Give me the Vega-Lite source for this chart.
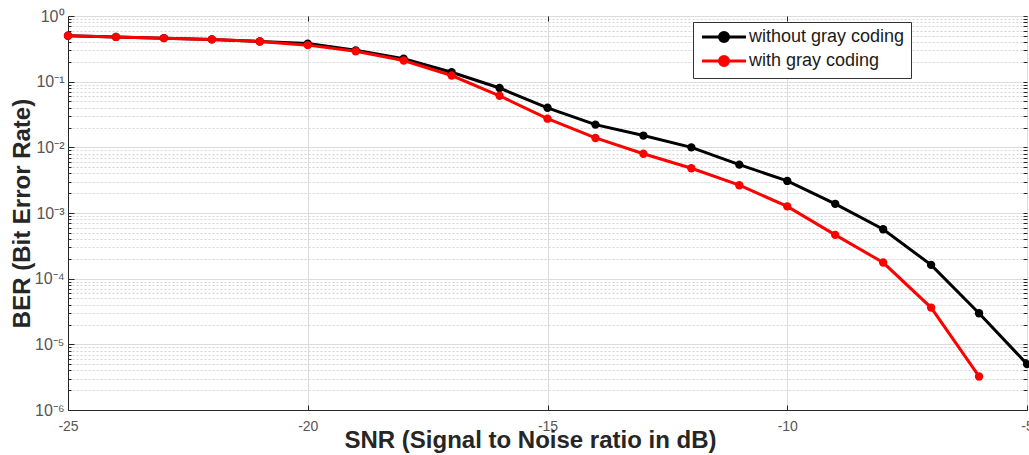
{
  "$schema": "https://vega.github.io/schema/vega-lite/v6.json",
  "width": 959,
  "height": 394,
  "autosize": {"type": "none"},
  "padding": {"left": 68, "top": 16, "right": 2, "bottom": 45},
  "background": "white",
  "config": {
    "view": {"stroke": "#262626", "strokeWidth": 1},
    "font": "Liberation Sans",
    "axis": {"labelFont": "Liberation Sans", "titleFont": "Liberation Sans"}
  },
  "data": {
    "values": [
      {"snr": -25, "ber": 0.50, "series": "without gray coding"},
      {"snr": -24, "ber": 0.48, "series": "without gray coding"},
      {"snr": -23, "ber": 0.46, "series": "without gray coding"},
      {"snr": -22, "ber": 0.44, "series": "without gray coding"},
      {"snr": -21, "ber": 0.41, "series": "without gray coding"},
      {"snr": -20, "ber": 0.38, "series": "without gray coding"},
      {"snr": -19, "ber": 0.30, "series": "without gray coding"},
      {"snr": -18, "ber": 0.224, "series": "without gray coding"},
      {"snr": -17, "ber": 0.139, "series": "without gray coding"},
      {"snr": -16, "ber": 0.080, "series": "without gray coding"},
      {"snr": -15, "ber": 0.040, "series": "without gray coding"},
      {"snr": -14, "ber": 0.0222, "series": "without gray coding"},
      {"snr": -13, "ber": 0.0151, "series": "without gray coding"},
      {"snr": -12, "ber": 0.0100, "series": "without gray coding"},
      {"snr": -11, "ber": 0.00545, "series": "without gray coding"},
      {"snr": -10, "ber": 0.00308, "series": "without gray coding"},
      {"snr": -9, "ber": 0.00138, "series": "without gray coding"},
      {"snr": -8, "ber": 0.000566, "series": "without gray coding"},
      {"snr": -7, "ber": 0.000162, "series": "without gray coding"},
      {"snr": -6, "ber": 0.0000298, "series": "without gray coding"},
      {"snr": -5, "ber": 0.0000050, "series": "without gray coding"},
      {"snr": -25, "ber": 0.50, "series": "with gray coding"},
      {"snr": -24, "ber": 0.48, "series": "with gray coding"},
      {"snr": -23, "ber": 0.46, "series": "with gray coding"},
      {"snr": -22, "ber": 0.44, "series": "with gray coding"},
      {"snr": -21, "ber": 0.41, "series": "with gray coding"},
      {"snr": -20, "ber": 0.36, "series": "with gray coding"},
      {"snr": -19, "ber": 0.29, "series": "with gray coding"},
      {"snr": -18, "ber": 0.21, "series": "with gray coding"},
      {"snr": -17, "ber": 0.124, "series": "with gray coding"},
      {"snr": -16, "ber": 0.061, "series": "with gray coding"},
      {"snr": -15, "ber": 0.0273, "series": "with gray coding"},
      {"snr": -14, "ber": 0.0139, "series": "with gray coding"},
      {"snr": -13, "ber": 0.0080, "series": "with gray coding"},
      {"snr": -12, "ber": 0.0048, "series": "with gray coding"},
      {"snr": -11, "ber": 0.00265, "series": "with gray coding"},
      {"snr": -10, "ber": 0.00126, "series": "with gray coding"},
      {"snr": -9, "ber": 0.000464, "series": "with gray coding"},
      {"snr": -8, "ber": 0.000176, "series": "with gray coding"},
      {"snr": -7, "ber": 0.0000363, "series": "with gray coding"},
      {"snr": -6, "ber": 0.00000324, "series": "with gray coding"}
    ]
  },
  "resolve": {"axis": {"y": "independent", "x": "independent"}},
  "layer": [
    {
      "mark": {"type": "line", "strokeWidth": 3},
      "encoding": {
        "x": {
          "field": "snr", "type": "quantitative",
          "scale": {"domain": [-25, -5], "nice": false, "zero": false},
          "axis": {
            "orient": "bottom",
            "values": [-25, -20, -15, -10, -5],
            "labelExpr": "'' + datum.value",
            "grid": true, "gridColor": "#dcdcdc", "gridWidth": 1,
            "domain": true, "domainColor": "#262626",
            "ticks": true, "tickSize": -5, "tickColor": "#262626",
            "labelColor": "#555555", "labelFontSize": 14, "labelPadding": 14,
            "labelFlush": false,
            "title": "SNR (Signal to Noise ratio in dB)",
            "titleFontSize": 24, "titleFontWeight": "bold", "titleColor": "#262626",
            "titleX": 462, "titleY": 18
          }
        },
        "y": {
          "field": "ber", "type": "quantitative",
          "scale": {"type": "log", "domain": [0.000001, 1], "nice": false},
          "axis": {
            "orient": "left",
            "values": [0.000001, 0.00001, 0.0001, 0.001, 0.01, 0.1, 1],
            "labelExpr": "datum.value >= 0.5 ? '10⁰' : datum.value >= 0.05 ? '10⁻¹' : datum.value >= 0.005 ? '10⁻²' : datum.value >= 0.0005 ? '10⁻³' : datum.value >= 0.00005 ? '10⁻⁴' : datum.value >= 0.000005 ? '10⁻⁵' : '10⁻⁶'",
            "grid": true, "gridColor": "#dcdcdc", "gridWidth": 1,
            "domain": true, "domainColor": "#262626",
            "ticks": true, "tickSize": -6, "tickColor": "#262626",
            "labelColor": "#555555", "labelFontSize": 16, "labelPadding": 10,
            "labelFlush": false,
            "title": "BER (Bit Error Rate)",
            "titleFontSize": 24, "titleFontWeight": "bold", "titleColor": "#262626",
            "titleX": -46, "titleY": 197, "titleBaseline": "middle", "titleAngle": -90
          }
        },
        "color": {
          "field": "series", "type": "nominal",
          "scale": {"domain": ["without gray coding", "with gray coding"], "range": ["#000000", "#ff0000"]},
          "legend": {
            "orient": "none", "legendX": 625, "legendY": 6,
            "title": null,
            "symbolType": "M-4.4,0L4.4,0M0.9,0A0.9,0.9 0 1,1 -0.9,0A0.9,0.9 0 1,1 0.9,0Z",
            "symbolSize": 100, "symbolStrokeWidth": 3,
            "symbolOffset": 16, "labelOffset": 16,
            "labelFontSize": 18, "labelColor": "#1a1a1a", "labelFont": "Liberation Sans",
            "rowPadding": 2, "padding": 6,
            "strokeColor": "#333333", "fillColor": "white",
            "encode": {"symbols": {"update": {"fill": {"scale": "color", "field": "value"}, "stroke": {"scale": "color", "field": "value"}}}}
          }
        }
      }
    },
    {
      "mark": {"type": "point", "filled": true, "size": 70, "opacity": 1},
      "encoding": {
        "x": {
          "field": "snr", "type": "quantitative",
          "axis": {"orient": "top", "values": [-20, -15, -10], "grid": false, "labels": false, "domain": false, "ticks": true, "tickSize": -5, "tickColor": "#262626", "title": null}
        },
        "y": {
          "field": "ber", "type": "quantitative",
          "axis": {
            "orient": "left",
            "values": [0.000002,0.000003,0.000004,0.000005,0.000006,0.000007,0.000008,0.000009,0.00002,0.00003,0.00004,0.00005,0.00006,0.00007,0.00008,0.00009,0.0002,0.0003,0.0004,0.0005,0.0006,0.0007,0.0008,0.0009,0.002,0.003,0.004,0.005,0.006,0.007,0.008,0.009,0.02,0.03,0.04,0.05,0.06,0.07,0.08,0.09,0.2,0.3,0.4,0.5,0.6,0.7,0.8,0.9],
            "grid": true, "gridColor": "#d4d4d4", "gridDash": [2, 2], "gridWidth": 1,
            "labels": false, "domain": false, "ticks": true, "tickSize": -3, "tickColor": "#262626", "title": null
          }
        },
        "color": {"field": "series", "type": "nominal", "legend": null}
      }
    },
    {
      "mark": {"type": "point", "opacity": 0},
      "encoding": {
        "x": {"field": "snr", "type": "quantitative", "axis": null},
        "y": {
          "field": "ber", "type": "quantitative",
          "axis": {
            "orient": "right",
            "values": [0.000001,0.000002,0.000003,0.000004,0.000005,0.000006,0.000007,0.000008,0.000009,0.00001,0.00002,0.00003,0.00004,0.00005,0.00006,0.00007,0.00008,0.00009,0.0001,0.0002,0.0003,0.0004,0.0005,0.0006,0.0007,0.0008,0.0009,0.001,0.002,0.003,0.004,0.005,0.006,0.007,0.008,0.009,0.01,0.02,0.03,0.04,0.05,0.06,0.07,0.08,0.09,0.1,0.2,0.3,0.4,0.5,0.6,0.7,0.8,0.9,1],
            "grid": false, "labels": false, "domain": false, "ticks": true, "tickSize": -4, "tickColor": "#262626", "title": null
          }
        }
      }
    }
  ]
}
